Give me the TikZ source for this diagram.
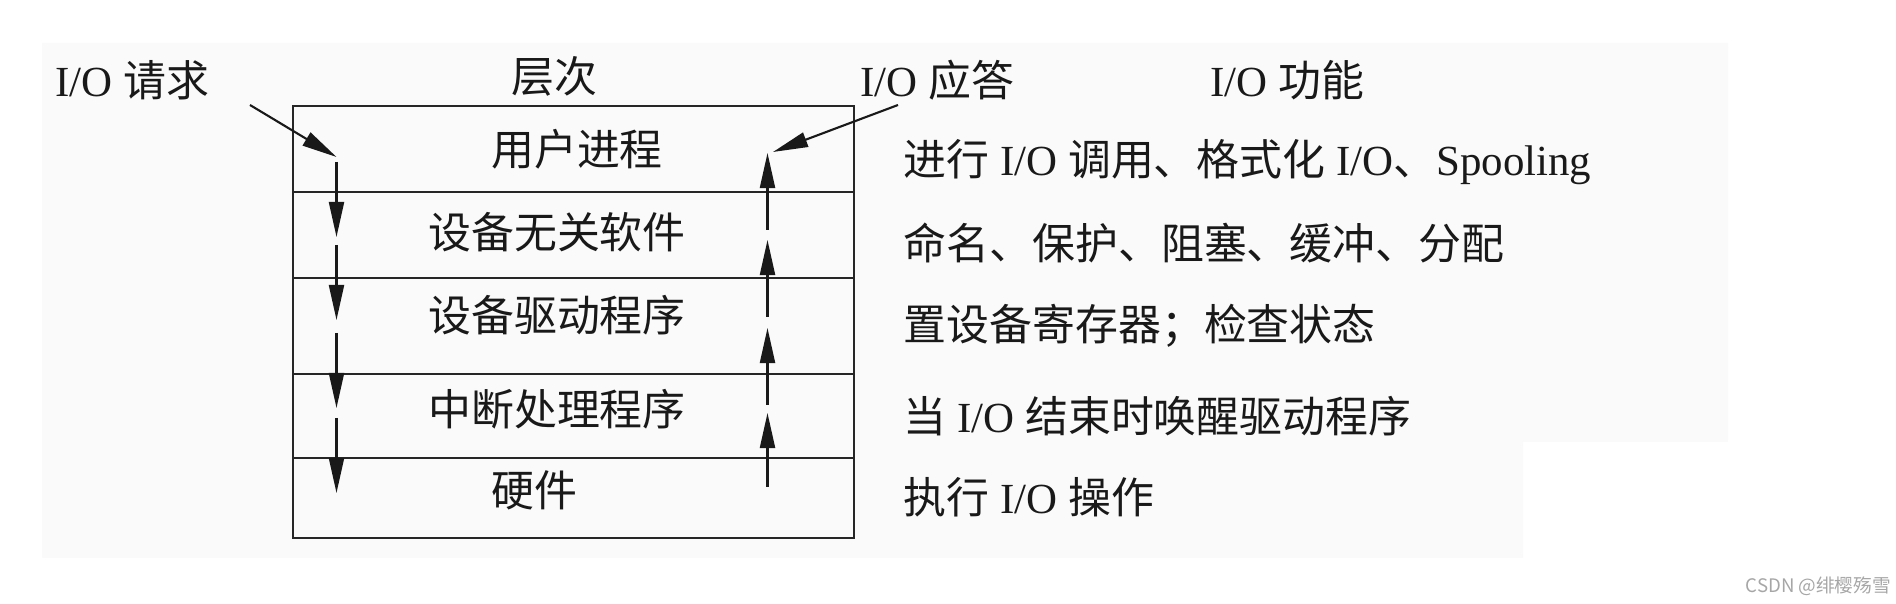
\documentclass[tikz,border=0pt]{standalone}
\usepackage{fontspec}
\setmainfont{Liberation Serif}
\newfontfamily\cjk{Noto Sans CJK SC}
\newcommand{\zh}[1]{{\cjk #1}}
\usetikzlibrary{arrows.meta}
\tikzset{
  marco/.style={draw=black!85,line width=0.8pt},
  flecha/.style={-{Triangle[length=3.5mm,width=1.5mm]},draw=black!90,line width=0.6pt},
  txt/.style={inner sep=0pt,text=black!90,font=\fontsize{12.2}{14}\selectfont},
  fondo/.style={fill=gray!4}
}

\begin{document}
\begin{tikzpicture}[x=0.01cm,y=-0.01cm]
\useasboundingbox (0,0) rectangle (1896,604);
% fondo
\fill[fondo] (42,43) -| (1728,442) -| (1523,558) -| (42,43) -- cycle;
% capas
\draw[marco] (293,106) rectangle (854,538);
\foreach \y in {192,278,374,458} \draw[marco] (293,\y) -- (854,\y);
% titulos
\node[txt,anchor=base west] (req) at (55,97) {I/O \zh{请求}};
\node[txt,anchor=base] (niv) at (554,93) {\zh{层次}};
\node[txt,anchor=base west] (resp) at (860,97) {I/O \zh{应答}};
\node[txt,anchor=base west] (func) at (1210,97) {I/O \zh{功能}};
% niveles
\node[txt,anchor=base] (usr) at (577,166) {\zh{用户进程}};
\node[txt,anchor=base] (ind) at (557,249) {\zh{设备无关软件}};
\node[txt,anchor=base] (drv) at (557,332) {\zh{设备驱动程序}};
\node[txt,anchor=base] (irq) at (557,426) {\zh{中断处理程序}};
\node[txt,anchor=base] (hw) at (534,507) {\zh{硬件}};
% funciones
\node[txt,anchor=base west] (f1) at (903,176) {\zh{进行} I/O \zh{调用、格式化} I/O\zh{、}Spooling};
\node[txt,anchor=base west] (f2) at (903,260) {\zh{命名、保护、阻塞、缓冲、分配}};
\node[txt,anchor=base west] (f3) at (903,341) {\zh{置设备寄存器；检查状态}};
\node[txt,anchor=base west] (f4) at (903,433) {\zh{当} I/O \zh{结束时唤醒驱动程序}};
\node[txt,anchor=base west] (f5) at (903,514) {\zh{执行} I/O \zh{操作}};
% flechas
\coordinate (reqini) at (250,105);
\coordinate (reqfin) at (336.5,157);
\draw[flecha] (reqini) -- (reqfin);
\coordinate (respini) at (898,105);
\coordinate (respfin) at (773,152);
\draw[flecha] (respini) -- (respfin);
\foreach \a/\b [count=\i] in {162/237,245/320,333/408,418/493} {
  \coordinate (ba\i) at (336.5,\a);
  \coordinate (bb\i) at (336.5,\b);
  \draw[flecha] (ba\i) -- (bb\i);
}
\foreach \a/\b [count=\i] in {487/413,405/328,317/240,230/153} {
  \coordinate (sa\i) at (767.5,\a);
  \coordinate (sb\i) at (767.5,\b);
  \draw[flecha] (sa\i) -- (sb\i);
}
% marca
\node[inner sep=0pt,anchor=base west,text=gray!70,font=\fontsize{5.3}{6}\selectfont\cjk] (marca) at (1745,593) {CSDN @绯樱殇雪};
\end{tikzpicture}
\end{document}
